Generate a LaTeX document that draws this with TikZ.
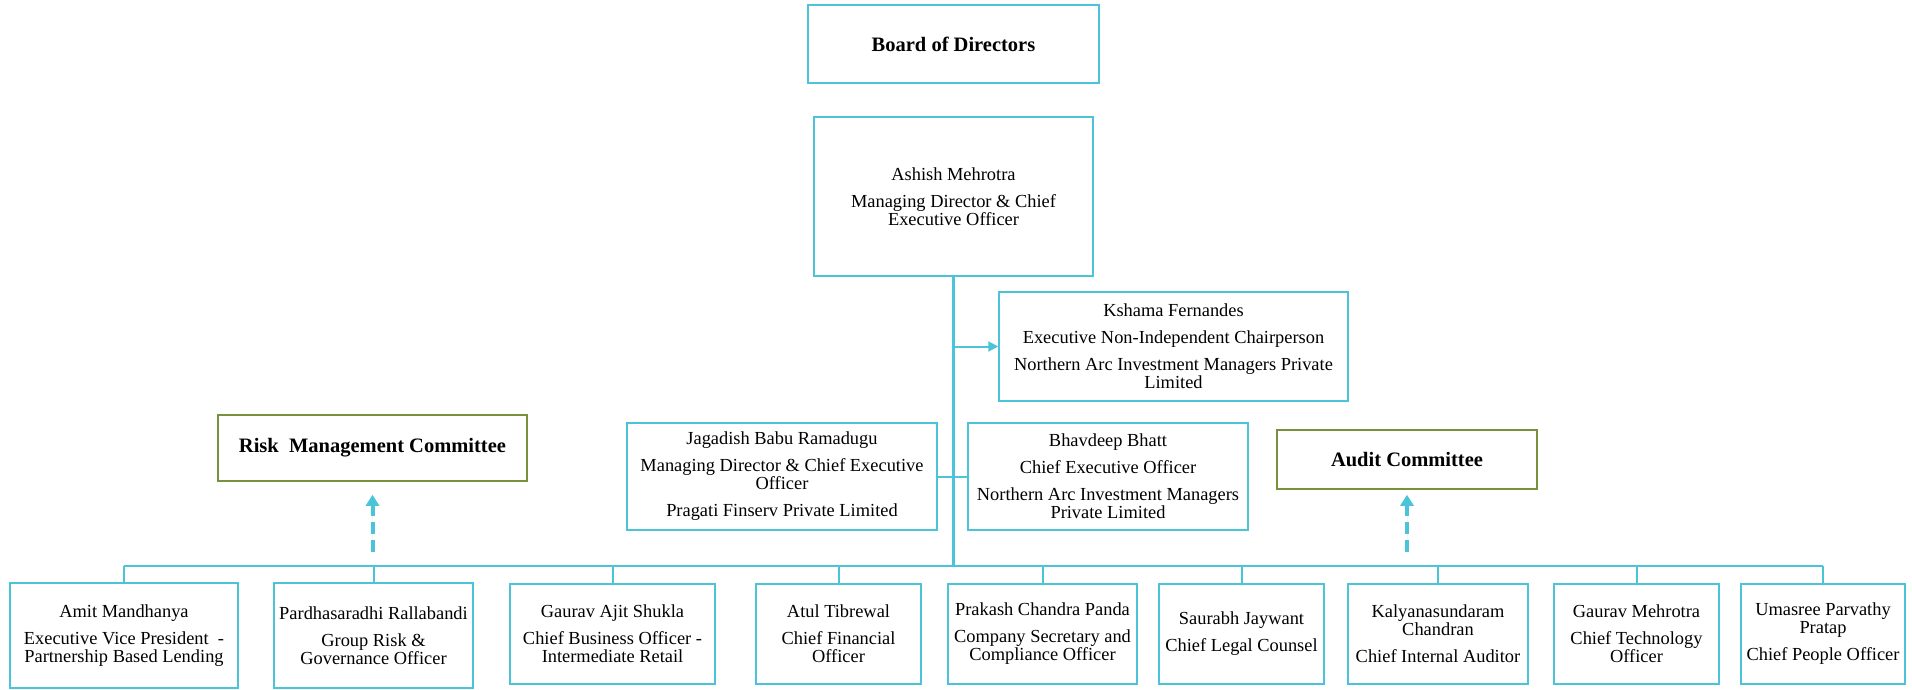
\documentclass[tikz,border=0pt]{standalone}
\usepackage{fontspec}
\setmainfont{Liberation Serif}
\usepackage{xcolor}
\usepackage{tikz}
\usetikzlibrary{arrows.meta,calc}

\definecolor{orgcyan}{RGB}{75,196,218}
\definecolor{orggreen}{RGB}{118,146,60}

\begin{document}
\begin{tikzpicture}[
  x=1pt, y=-1pt,
  font=\fontsize{18.4}{18}\selectfont,
  person/.style={draw=orgcyan, line width=1.5pt, align=center, inner sep=0pt, fill=white},
  committee/.style={draw=orggreen, line width=1.5pt, align=center, inner sep=0pt, fill=white, font=\bfseries\fontsize{20.5}{22}\selectfont},
  link/.style={draw=orgcyan, line width=2pt},
  trunk/.style={draw=orgcyan, line width=3pt},
  arrow/.style={-{Triangle[length=10pt,width=10pt]}, draw=orgcyan, fill=orgcyan, line width=2pt},
  dasharrow/.style={-{Triangle[length=11pt,width=13pt]}, draw=orgcyan, fill=orgcyan, line width=4pt, dash pattern=on 12pt off 6pt}
]
\useasboundingbox (0,0) rectangle (1912,690);

% top of the chart
\node[person, font=\bfseries\fontsize{20.5}{22}\selectfont, minimum width=291, minimum height=78] (Board) at (953.5,44) {Board of Directors};
\node[person, minimum width=279, minimum height=159] (MD) at (953.5,196.5) {Ashish Mehrotra\\[9pt]Managing Director \& Chief\\Executive Officer};

% group entities
\node[person, minimum width=349, minimum height=109] (Chair) at (1173.5,346.5) {Kshama Fernandes\\[9pt]Executive Non-Independent Chairperson\\[9pt]Northern Arc Investment Managers Private\\Limited};
\node[person, minimum width=310, minimum height=107] (Pragati) at (782,476.5) {Jagadish Babu Ramadugu\\[9pt]Managing Director \& Chief Executive\\Officer\\[9pt]Pragati Finserv Private Limited};
\node[person, minimum width=280, minimum height=107] (NAIM) at (1108,476.5) {Bhavdeep Bhatt\\[9pt]Chief Executive Officer\\[9pt]Northern Arc Investment Managers\\Private Limited};

% committees
\node[committee, minimum width=309, minimum height=66] (Risk) at (372.5,448) {Risk\ \ Management Committee};
\node[committee, minimum width=260, minimum height=59] (Audit) at (1407,459.5) {Audit Committee};

% senior management
\node[person, minimum width=228, minimum height=105] (Amit) at (124,635.5) {Amit Mandhanya\\[9pt]Executive Vice President\ \ -\\Partnership Based Lending};
\node[person, minimum width=199, minimum height=105] (Pardha) at (373.5,635.5) {Pardhasaradhi Rallabandi\\[9pt]Group Risk \&\\Governance Officer};
\node[person, minimum width=205, minimum height=100] (CBO) at (612.5,634) {Gaurav Ajit Shukla\\[9pt]Chief Business Officer -\\Intermediate Retail};
\node[person, minimum width=165, minimum height=100] (CFO) at (838.5,634) {Atul Tibrewal\\[9pt]Chief Financial\\Officer};
\node[person, minimum width=189, minimum height=100] (CS) at (1042.5,634) {Prakash Chandra Panda\\[9pt]Company Secretary and\\Compliance Officer};
\node[person, minimum width=165, minimum height=100] (Legal) at (1241.5,634) {Saurabh Jaywant\\[9pt]Chief Legal Counsel};
\node[person, minimum width=180, minimum height=100] (Auditor) at (1438,634) {Kalyanasundaram\\Chandran\\[9pt]Chief Internal Auditor};
\node[person, minimum width=165, minimum height=100] (CTO) at (1636.5,634) {Gaurav Mehrotra\\[9pt]Chief Technology\\Officer};
\node[person, minimum width=164, minimum height=100] (CPO) at (1823,634) {Umasree Parvathy\\Pratap\\[9pt]Chief People Officer};

\coordinate (bus) at (953.5,566);
\coordinate (riskfoot) at (372.5,552);
\coordinate (auditfoot) at (1407,552);

% connectors
\draw[trunk] (MD.south) -- (bus);
\draw[arrow] (MD.south |- Chair.west) -- (Chair.west);
\draw[link] (Pragati.east) -- (NAIM.west);
\draw[link] (Amit.north |- bus) -- (CPO.north |- bus);
\draw[link] (Amit.north) -- (Amit.north |- bus);
\draw[link] (Pardha.north) -- (Pardha.north |- bus);
\draw[link] (CBO.north) -- (CBO.north |- bus);
\draw[link] (CFO.north) -- (CFO.north |- bus);
\draw[link] (CS.north) -- (CS.north |- bus);
\draw[link] (Legal.north) -- (Legal.north |- bus);
\draw[link] (Auditor.north) -- (Auditor.north |- bus);
\draw[link] (CTO.north) -- (CTO.north |- bus);
\draw[link] (CPO.north) -- (CPO.north |- bus);
\draw[dasharrow, shorten >=13pt] (riskfoot) -- (Risk.south);
\draw[dasharrow, shorten >=5pt] (auditfoot) -- (Audit.south);
\end{tikzpicture}
\end{document}
